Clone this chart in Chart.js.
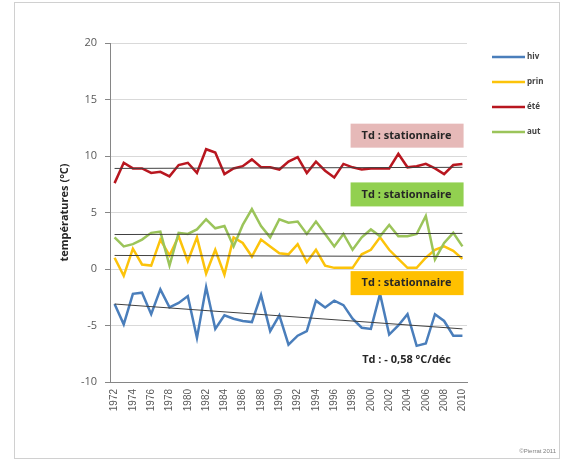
<!DOCTYPE html>
<html lang="fr">
<head>
    <meta charset="UTF-8">
    <title>Températures saisonnières 1972-2010</title>
    <script src="https://cdn.jsdelivr.net/npm/chart.js"></script>
    <style>
        body {
            margin: 0;
            background: #fff;
        }

        #chart-container {
            width: 567px;
            height: 461px;
            position: relative;
        }
    </style>
</head>
<body>

    <div id="chart-container">
        <canvas id="temp-chart" width="567" height="461"></canvas>
    </div>

    <script>
        const years = ['1972', '1973', '1974', '1975', '1976', '1977', '1978', '1979', '1980', '1981',
                       '1982', '1983', '1984', '1985', '1986', '1987', '1988', '1989', '1990', '1991',
                       '1992', '1993', '1994', '1995', '1996', '1997', '1998', '1999', '2000', '2001',
                       '2002', '2003', '2004', '2005', '2006', '2007', '2008', '2009', '2010'];

        // moyennes saisonnières (°C)
        const hiv = [-3.1, -4.9, -2.2, -2.1, -4.0, -1.8, -3.4, -3.0, -2.4, -6.1, -1.6, -5.3, -4.1,
                     -4.4, -4.6, -4.7, -2.3, -5.5, -4.1, -6.7, -5.9, -5.5, -2.8, -3.4, -2.8, -3.2,
                     -4.4, -5.2, -5.3, -2.2, -5.8, -5.0, -4.0, -6.8, -6.6, -4.0, -4.6, -5.9, -5.9];
        const prin = [1.0, -0.6, 1.8, 0.4, 0.3, 2.6, 1.2, 2.9, 0.7, 2.8, -0.4, 1.7, -0.5,
                      2.8, 2.3, 1.1, 2.6, 2.0, 1.4, 1.3, 2.2, 0.6, 1.7, 0.3, 0.1, 0.1,
                      0.1, 1.3, 1.7, 2.8, 1.7, 0.9, 0.1, 0.1, 1.0, 1.7, 2.0, 1.6, 0.9];
        const ete = [7.6, 9.4, 8.9, 8.9, 8.5, 8.6, 8.2, 9.2, 9.4, 8.5, 10.6, 10.3, 8.4,
                     8.9, 9.1, 9.7, 9.0, 9.0, 8.8, 9.5, 9.9, 8.5, 9.5, 8.7, 8.1, 9.3,
                     9.0, 8.8, 8.9, 8.9, 8.9, 10.2, 9.0, 9.1, 9.3, 8.9, 8.4, 9.2, 9.3];
        const aut = [2.8, 2.0, 2.2, 2.6, 3.2, 3.3, 0.3, 3.2, 3.1, 3.5, 4.4, 3.6, 3.8,
                     2.0, 3.9, 5.3, 3.8, 2.8, 4.4, 4.1, 4.2, 3.1, 4.2, 3.1, 2.0, 3.1,
                     1.7, 2.8, 3.5, 2.9, 3.9, 2.9, 2.9, 3.1, 4.7, 0.85, 2.3, 3.2, 2.0];

        // tendances linéaires : valeur en 1972 et en 2010
        const trendHiv = [-3.1, -5.3];
        const trendPrin = [1.2, 1.1];
        const trendEte = [8.9, 9.0];
        const trendAut = [3.05, 3.15];

        const seriesNames = ['hiv', 'prin', 'été', 'aut'];
        const seriesColors = ['#4a7ebb', '#fcc30a', '#b8161f', '#9bc45a'];

        const trendLabels = ['Td : - 0,58 °C/déc', 'Td : stationnaire', 'Td : stationnaire', 'Td : stationnaire'];
        const trendBoxColors = [null, '#ffc000', '#e6b9b8', '#92d050'];

        function trendData(ends) {
            const d = years.map(() => null);
            d[0] = ends[0];
            d[d.length - 1] = ends[1];
            return d;
        }

        const values = [hiv, prin, ete, aut];
        const trends = [trendHiv, trendPrin, trendEte, trendAut];

        const datasets = [];
        trends.forEach((t, i) => {
            datasets.push({
                label: 'tendance ' + seriesNames[i],
                data: trendData(t),
                borderColor: '#404040',
                borderWidth: 1,
                pointRadius: 0,
                spanGaps: true,
                order: 0
            });
        });
        values.forEach((v, i) => {
            datasets.push({
                label: seriesNames[i],
                data: v,
                borderColor: seriesColors[i],
                borderWidth: 2.5,
                pointRadius: 0,
                tension: 0,
                order: 4 - i
            });
        });

        // legende + encadres "Td" + cadre
        const extras = {
            id: 'extras',
            afterDraw(chart) {
                const c = chart.ctx;
                const x = chart.scales.x;
                const y = chart.scales.y;
                c.save();

                // cadre du graphique
                c.strokeStyle = '#d0d0d0';
                c.lineWidth = 1;
                c.strokeRect(14.5, 2.5, 545, 456);

                // legende
                c.font = 'bold 8px "Open Sans"';
                c.textBaseline = 'middle';
                c.textAlign = 'left';
                seriesNames.forEach((n, i) => {
                    const ly = 57 + i * 25;
                    c.strokeStyle = seriesColors[i];
                    c.lineWidth = 2.5;
                    c.beginPath();
                    c.moveTo(492, ly);
                    c.lineTo(525, ly);
                    c.stroke();
                    c.fillStyle = '#404040';
                    c.fillText(n, 527, ly);
                });

                // encadres des tendances
                const boxY = [-8.0, -1.25, 11.8, 6.6];
                const cx = x.getPixelForValue(31.9);
                c.font = 'bold 11px "Open Sans"';
                c.textAlign = 'center';
                trendLabels.forEach((t, i) => {
                    const cy = y.getPixelForValue(boxY[i]);
                    if (trendBoxColors[i]) {
                        c.fillStyle = trendBoxColors[i];
                        c.fillRect(cx - 56, cy - 12, 113, 24);
                    }
                    c.fillStyle = '#262626';
                    c.fillText(t, cx, cy);
                });

                // copyright
                c.font = '6px "Liberation Sans"';
                c.fillStyle = '#7f7f7f';
                c.textAlign = 'right';
                c.fillText('©Pierrat 2011', 556, 451);
                c.restore();
            }
        };

        const ctx = document.getElementById('temp-chart').getContext('2d');
        const tempChart = new Chart(ctx, {
            type: 'line',
            data: {
                labels: years,
                datasets: datasets
            },
            options: {
                responsive: false,
                animation: false,
                layout: {
                    padding: { left: 14, right: 100, top: 43, bottom: 29 }
                },
                scales: {
                    x: {
                        offset: true,
                        afterFit: (s) => { s.height = 50; },
                        grid: {
                            display: false,
                            drawTicks: false
                        },
                        border: { color: '#868686' },
                        ticks: {
                            autoSkip: false,
                            maxRotation: 90,
                            minRotation: 90,
                            padding: 7,
                            color: '#595959',
                            font: { family: '"Liberation Sans"', size: 10 },
                            callback: function(value, index) {
                                return index % 2 === 0 ? years[index] : '';
                            }
                        }
                    },
                    y: {
                        min: -10,
                        max: 20,
                        afterFit: (s) => { s.width = 96; },
                        grid: {
                            color: '#d9d9d9',
                            tickLength: 5,
                            tickColor: '#868686'
                        },
                        border: { color: '#868686' },
                        ticks: {
                            stepSize: 5,
                            padding: 8,
                            color: '#595959',
                            font: { family: '"Open Sans"', size: 11 }
                        },
                        title: {
                            display: true,
                            text: 'températures (°C)',
                            color: '#262626',
                            font: { family: '"Open Sans"', size: 11, weight: 'bold' },
                            padding: { top: 44, bottom: 0 }
                        }
                    }
                },
                plugins: {
                    legend: { display: false },
                    tooltip: { enabled: false }
                }
            },
            plugins: [extras]
        });
    </script>

</body>
</html>
